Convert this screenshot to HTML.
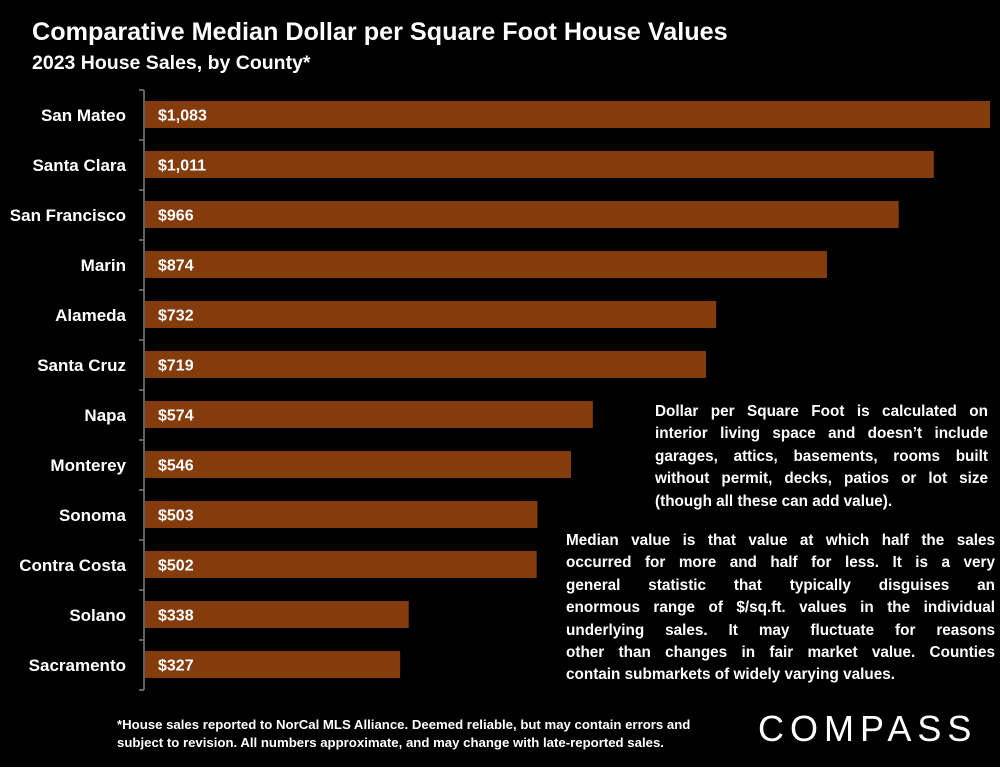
<!DOCTYPE html>
<html><head><meta charset="utf-8"><style>
body{margin:0;background:#000;width:1000px;height:767px;overflow:hidden;font-family:"Liberation Sans",sans-serif;color:#fff;position:relative}
.t{position:absolute;font-weight:bold;white-space:nowrap}
.note{position:absolute;font-weight:bold;font-size:15.3px;line-height:22.4px}
.note div{text-align:justify;text-align-last:justify;white-space:nowrap}
.note div.last{text-align-last:left}
</style></head><body>
<div class="t" style="left:32px;top:18px;font-size:25.2px">Comparative Median Dollar per Square Foot House Values</div>
<div class="t" style="left:32px;top:52px;font-size:19.5px">2023 House Sales, by County*</div>
<svg id="chart" width="1000" height="767" style="position:absolute;left:0;top:0"></svg>
<div class="note" style="left:655px;top:401px;width:333px">
<div>Dollar per Square Foot is calculated on</div><div>interior living space and doesn’t include</div><div>garages, attics, basements, rooms built</div><div>without permit, decks, patios or lot size</div><div class="last">(though all these can add value).</div></div>
<div class="note" style="left:566px;top:530px;width:429px">
<div>Median value is that value at which half the sales</div><div>occurred for more and half for less. It is a very</div><div>general statistic that typically disguises an</div><div>enormous range of $/sq.ft. values in the individual</div><div>underlying sales. It may fluctuate for reasons</div><div>other than changes in fair market value. Counties</div><div class="last">contain submarkets of widely varying values.</div></div>
<div class="t" style="left:117px;top:716px;font-size:13.2px;line-height:18px">*House sales reported to NorCal MLS Alliance. Deemed reliable, but may contain errors and<br>subject to revision. All numbers approximate, and may change with late-reported sales.</div>
<div class="t" style="left:758px;top:708px;font-size:36px;font-weight:normal;letter-spacing:6px">COMPASS</div>
<script>
const categories=["San Mateo","Santa Clara","San Francisco","Marin","Alameda","Santa Cruz","Napa","Monterey","Sonoma","Contra Costa","Solano","Sacramento"];
const values=[1083,1011,966,874,732,719,574,546,503,502,338,327];
const valueLabels=["$1,083","$1,011","$966","$874","$732","$719","$574","$546","$503","$502","$338","$327"];
const svg=document.getElementById('chart');const NS='http://www.w3.org/2000/svg';
const x0=145,x1=990,maxV=1083,top0=90,band=50;
const xs=v=>x0+(x1-x0)*v/maxV;const ys=i=>top0+i*band;
function mk(t,a){const e=document.createElementNS(NS,t);for(const k in a)e.setAttribute(k,a[k]);svg.appendChild(e);return e;}
const ax=mk('line',{x1:144,x2:144,y1:top0,y2:ys(categories.length),stroke:'#7f7f7f','stroke-width':1.5});


for(let i=0;i<=categories.length;i++){const tk=mk('line',{x1:139,x2:144,y1:ys(i),y2:ys(i),stroke:'#7f7f7f','stroke-width':1.5});

}
categories.forEach((c,i)=>{
const r=mk('rect',{x:x0,y:ys(i)+11,width:xs(values[i])-x0,height:27,fill:'#843c0c'});


const l=mk('text',{x:126,y:ys(i)+31,'text-anchor':'end',fill:'#fff','font-size':'17','font-weight':'bold','font-family':'Liberation Sans'});l.textContent=c;


const v=mk('text',{x:158,y:ys(i)+30.5,fill:'#fff','font-size':'16','font-weight':'bold','font-family':'Liberation Sans'});v.textContent=valueLabels[i];


});
</script>
</body></html>
